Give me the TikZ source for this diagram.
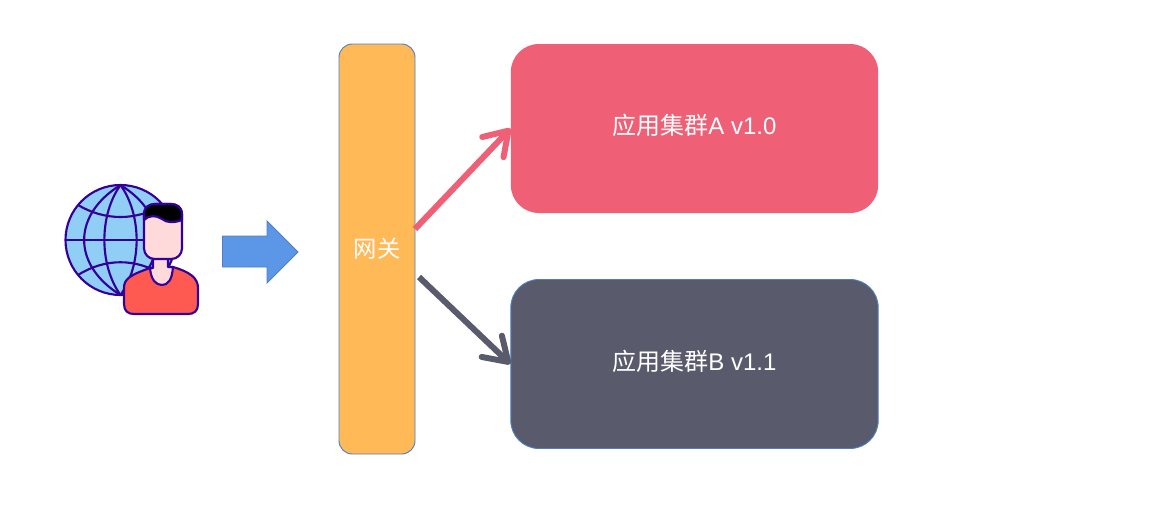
\documentclass[tikz,border=0pt]{standalone}
\usepackage{fontspec}
\setmainfont{Liberation Sans}
\newfontfamily\cjk{Noto Sans CJK SC}
\usetikzlibrary{arrows.meta, positioning}
\definecolor{gatewayorange}{HTML}{ffb957}
\definecolor{clusterpink}{HTML}{ef6076}
\definecolor{clusterslate}{HTML}{595b6c}
\definecolor{edgeblue}{HTML}{4f7fc0}
\definecolor{flowblue}{HTML}{5c96e6}
\definecolor{globeblue}{HTML}{90cef5}
\definecolor{iconpurple}{HTML}{330099}
\definecolor{skinpink}{HTML}{ffdadb}
\definecolor{shirtred}{HTML}{ff5a52}
\tikzset{
	cluster/.style={rounded corners=21pt, minimum width=275.5pt, minimum height=126.75pt, align=center, text=white, font=\fontsize{18}{22}\selectfont, text height=13pt, text depth=3.5pt},
	link/.style={line width=4.5pt, -{Straight Barb[length=17pt, width=22pt, round]}},
	iconline/.style={draw=iconpurple, line width=1.6pt, line join=round}
}

\begin{document}
\begin{tikzpicture}[x=0.75pt, y=-0.75pt]
	\useasboundingbox (0,0) rectangle (1156,504);
	% gateway and clusters
	\node[draw=edgeblue, line width=.7pt, fill=gatewayorange, rounded corners=10pt, minimum width=57pt, minimum height=307.5pt,
		text=white, font=\fontsize{17.5}{21}\selectfont] (gateway) at (377,249) {\cjk 网关};
	\node[cluster, fill=clusterpink] (clusterA) at (694.5,128.5) {{\cjk 应用集群}A v1.0};
	\node[cluster, draw=edgeblue, line width=.7pt, fill=clusterslate] (clusterB) at (694.5,364) {{\cjk 应用集群}B v1.1};
	\coordinate (gateA) at (415,229);
	\coordinate (gateB) at (419,277);
	\draw[link, draw=clusterpink] (gateA) -- (clusterA.west);
	\draw[link, draw=clusterslate] (gateB) -- (clusterB.west);
	% flow arrow
	\draw[draw=edgeblue, line width=.7pt, fill=flowblue] (222.5,236) -- (267,236) -- (267,221) -- (298,252) -- (267,283) -- (267,267) -- (222.5,267) -- cycle;
	% globe
	\fill[globeblue] (120.5,240) circle[radius=55];
	\draw[iconline] (120.5,240) circle[radius=55];
	\draw[iconline] (120.5,185) .. controls (72,215) and (72,265) .. (120.5,295);
	\draw[iconline] (120.5,185) .. controls (169,215) and (169,265) .. (120.5,295);
	\draw[iconline] (120.5,185) .. controls (99,215) and (99,265) .. (120.5,295);
	\draw[iconline] (120.5,185) .. controls (142,215) and (142,265) .. (120.5,295);
	\draw[iconline] (65.5,240) -- (175.5,240);
	\draw[iconline] (78,205) .. controls (105,221) and (136,221) .. (163,205);
	\draw[iconline] (78,275) .. controls (105,258) and (136,258) .. (163,275);
	% person
	\draw[iconline, fill=shirtred] (124,288) .. controls (124,279) and (130,275) .. (150,268) -- (173,267)
		.. controls (190,272) and (198,278) .. (198,288) -- (198,304) .. controls (198,311) and (194,314) .. (188,314) -- (134,314) .. controls (128,314) and (124,311) .. (124,304) -- cycle;
	\draw[iconline, fill=skinpink] (153,255) -- (153,268) -- (150,268) .. controls (151,280) and (156,285) .. (162,285) .. controls (168,285) and (172,280) .. (173,267) -- (168,267) -- (168,255) -- cycle;
	\draw[iconline, fill=skinpink, rounded corners=8pt] (144,204) rectangle (182,259);
	\draw[iconline, fill=black] (144,220) -- (144,214) .. controls (144,207) and (149,204) .. (155,204) -- (171,204) .. controls (177,204) and (182,207) .. (182,214) -- (182,220)
		.. controls (174,223) and (167,223) .. (162,219) .. controls (156,215) and (149,215) .. (144,220) -- cycle;
\end{tikzpicture}
\end{document}
